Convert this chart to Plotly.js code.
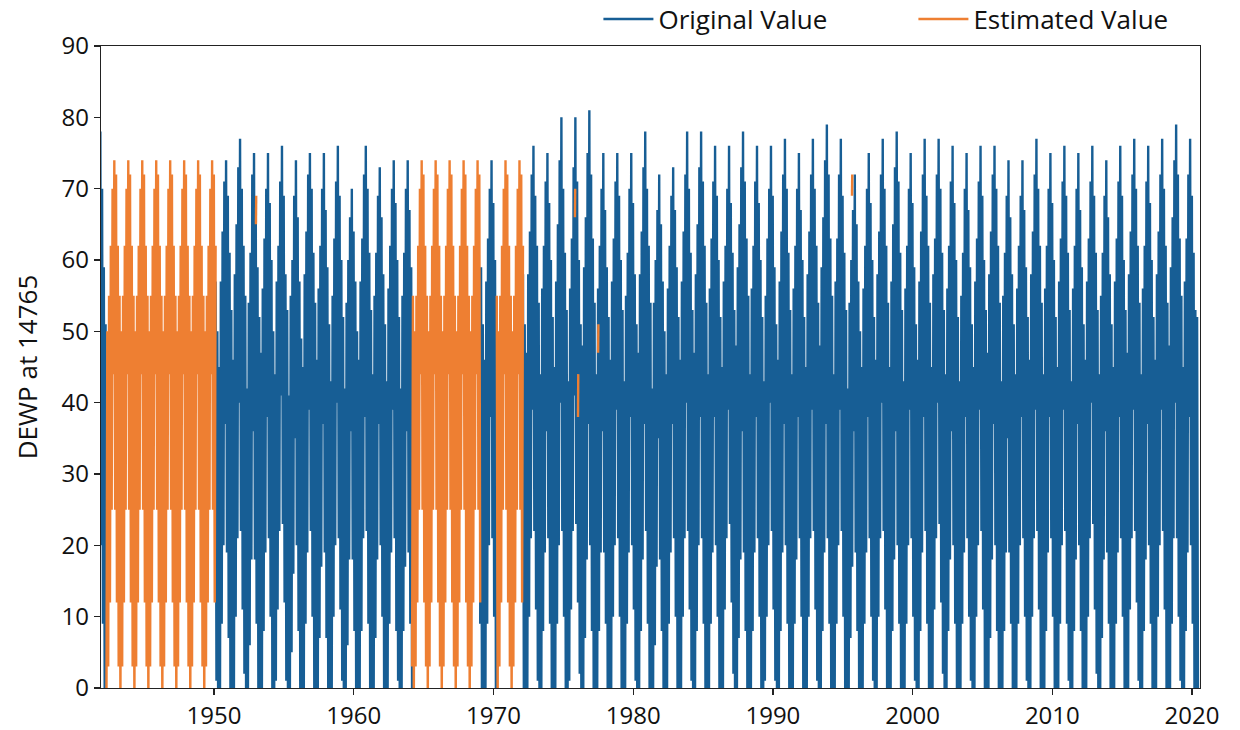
<!DOCTYPE html>
<html>
<head>
<meta charset="utf-8">
<script src="https://cdn.plot.ly/plotly-3.0.1.min.js"></script>
<style>html,body{margin:0;padding:0;background:#fff;}#chart{width:1240px;height:730px;}</style>
</head>
<body>
<div id="chart"></div>
<script>
// ---- Data ----
// Each "cycle" is one year of values (16 samples, lo/hi alternating) starting at year + 0.30
const cycleOffset = 0.30;
const samplesPerCycle = 16;

// Original Value (blue) cycles, grouped by decade
const years1940s = [1941, 1949];
const orig1940s = [
  [-6,44,-1,56,8,62,19,71,38,78,20,70,9,59,-1,51],
  [-5,43,0,54,6,62,17,69,36,74,22,67,8,57,1,50]
];
const years1950s = [1950,1951,1952,1953,1954,1955,1956,1957,1958,1959];
const orig1950s = [
  [-7,45,-3,57,9,64,20,71,37,74,19,69,7,61,-1,53],
  [-9,46,0,58,10,65,21,73,40,77,22,70,11,62,2,55],
  [-6,42,-2,54,6,61,18,72,36,75,18,67,9,59,-2,52],
  [-8,47,-1,56,8,63,19,70,38,75,21,68,10,60,0,50],
  [-5,44,1,57,11,62,22,71,41,76,23,69,12,58,1,53],
  [-10,41,-4,55,5,60,16,69,35,74,20,66,8,57,-3,49],
  [-7,45,-1,58,9,64,19,72,39,75,22,70,10,61,0,54],
  [-8,46,-3,56,7,62,17,70,37,75,19,67,7,59,-1,51],
  [-6,43,0,55,10,63,20,71,40,76,21,69,11,60,1,52],
  [-9,42,-2,54,6,60,18,66,36,70,18,64,8,57,-2,50]
];
const years1960s = [1960,1961,1962,1963,1968,1969];
const orig1960s = [
  [-7,46,-1,57,8,63,21,72,38,76,22,70,9,61,0,53],
  [-8,44,-3,55,7,61,18,69,37,73,20,66,10,58,-1,51],
  [-6,43,0,56,9,62,19,70,39,74,21,68,8,60,1,52],
  [-9,42,-2,55,8,61,17,70,36,74,19,67,9,59,-1,50],
  [-7,44,-1,56,8,62,18,69,37,73,20,66,9,59,0,51],
  [-8,46,-2,57,9,63,20,70,38,74,21,68,10,60,0,52]
];
const years1970s = [1971,1972,1973,1974,1975,1976,1977,1978,1979];
const orig1970s = [
  [-6,43,-1,55,7,61,18,69,37,74,20,67,10,58,-1,51],
  [-8,47,0,58,10,64,21,72,39,76,22,69,11,62,1,54],
  [-7,44,-2,56,8,62,19,71,36,75,21,68,9,60,-1,52],
  [-9,45,-1,57,9,65,20,74,40,80,22,70,10,61,0,53],
  [-6,43,1,56,11,63,22,73,41,80,23,71,12,60,2,51],
  [-10,48,-3,59,7,66,18,75,37,81,20,72,8,63,-2,54],
  [-7,44,-1,56,8,62,19,70,36,75,19,67,9,59,0,52],
  [-8,46,-2,57,10,63,20,71,39,75,21,69,10,60,-1,53],
  [-6,43,0,55,9,61,19,70,38,75,20,68,11,58,1,51]
];
const years1980s = [1980,1981,1982,1983,1984,1985,1986,1987,1988,1989];
const orig1980s = [
  [-9,47,-1,58,8,64,18,73,37,78,22,70,9,62,0,54],
  [-7,42,-2,54,6,60,17,67,35,72,18,65,8,57,-1,50],
  [-8,44,0,56,9,62,19,69,37,73,21,67,10,59,0,52],
  [-6,46,-1,57,10,64,21,72,40,78,22,70,11,61,1,53],
  [-9,47,-3,58,8,65,20,73,38,78,21,71,9,62,-1,54],
  [-7,44,-1,56,9,63,19,71,38,76,20,69,10,60,0,52],
  [-8,45,0,57,11,62,21,70,39,76,23,68,12,61,2,53],
  [-10,48,-2,59,7,65,18,73,36,78,19,71,8,63,-2,55],
  [-7,44,-1,56,8,62,19,71,38,76,21,68,10,60,0,52],
  [-6,43,1,55,10,63,20,70,40,76,22,69,11,59,1,51]
];
const years1990s = [1990,1991,1992,1993,1994,1995,1996,1997,1998,1999];
const orig1990s = [
  [-8,46,-2,57,8,64,19,72,37,77,20,70,9,61,-1,53],
  [-9,44,-1,56,9,62,18,70,38,75,21,67,10,60,0,52],
  [-7,45,0,58,10,64,21,72,39,77,22,70,11,62,1,54],
  [-8,48,-3,59,8,66,19,74,37,79,21,72,9,63,-1,55],
  [-6,44,-1,57,9,63,20,72,39,77,22,69,10,61,0,53],
  [-9,42,-2,54,7,60,17,67,36,72,19,65,8,57,-2,50],
  [-7,45,0,56,9,62,19,70,38,75,21,68,10,60,1,52],
  [-8,46,-1,58,10,64,21,72,40,77,22,70,11,62,0,54],
  [-10,45,-3,57,8,65,18,73,36,78,20,71,9,61,-1,53],
  [-6,43,0,56,9,62,20,70,39,75,21,68,10,59,1,51]
];
const years2000s = [2000,2001,2002,2003,2004,2005,2006,2007,2008,2009];
const orig2000s = [
  [-8,46,-2,57,8,64,19,72,38,77,22,69,9,62,0,54],
  [-7,45,-1,58,11,63,21,72,40,77,23,70,12,61,2,53],
  [-9,44,-2,56,8,62,18,71,36,76,20,68,9,60,-1,52],
  [-6,43,0,55,9,61,19,70,38,75,21,67,10,59,1,51],
  [-8,45,-1,57,10,63,20,71,39,76,22,69,11,60,0,53],
  [-7,47,-3,58,7,64,18,72,37,76,20,70,8,62,-2,54],
  [-9,43,-1,55,8,61,19,69,35,74,19,66,9,58,-1,51],
  [-6,44,0,56,9,62,20,69,38,74,21,67,10,59,1,52],
  [-8,46,-2,58,10,64,21,72,39,77,22,70,11,62,0,54],
  [-7,44,-1,56,8,62,19,70,38,75,21,68,10,60,-1,52]
];
const years2010s = [2010,2011,2012,2013,2014,2015,2016,2017,2018,2019,2020];
const orig2010s = [
  [-9,45,0,57,9,63,20,71,39,76,22,69,9,61,1,53],
  [-6,43,-2,56,8,62,18,70,37,75,20,67,8,59,0,51],
  [-8,46,-1,57,10,63,21,71,40,76,23,69,11,61,2,53],
  [-7,44,-3,55,7,61,18,69,36,74,19,66,9,58,-1,51],
  [-9,45,0,57,9,63,19,71,38,76,21,69,10,60,0,53],
  [-6,47,-1,58,11,64,21,72,39,77,22,70,12,62,1,54],
  [-8,44,-2,56,8,62,18,71,37,76,20,68,9,60,-1,52],
  [-7,46,0,58,10,64,20,72,39,77,22,70,11,62,0,54],
  [-9,48,-1,59,9,66,21,74,40,79,21,72,10,63,1,55],
  [-6,45,-2,57,8,63,19,72,38,77,20,69,9,61,-1,53],
  [-8,52,-1]
];
// time spans where the original series is shown
const origSpans = [[1941.85,1942.25],[1950.10,1964.18],[1969.04,1970.22],[1972.10,2020.50]];

// Estimated Value (orange): repeating yearly pattern
const estTemplate = [-3,50,3,55,12,62,25,70,44,74,25,72,12,62,3,55];
const estCycleYears = [1942,1943,1944,1945,1946,1947,1948,1949,1963,1964,1965,1966,1967,1968,1969,1970,1971];
const estSpans = [[1942.28,1950.12],[1964.16,1969.06],[1970.20,1972.12]];
// small isolated estimated patches inside the original record
const estSpeckT = [1953.00,1953.02, 1975.83,1975.85, 1976.05,1976.07, 1977.49,1977.51, 1995.66,1995.68];
const estSpeckV = [65,69, 66,70, 38,44, 47,51, 69,72];

// ---- Build traces ----
function inSpans(t, spans){ return spans.some(s => t >= s[0] && t <= s[1]); }
function pushSeries(xs, ys, years, cycles, spans){
  for (let i = 0; i < years.length; i++){
    const vals = cycles[i];
    for (let k = 0; k < vals.length; k++){
      const t = years[i] + cycleOffset + k / samplesPerCycle;
      if (!inSpans(t, spans)) continue;
      const lastT = xs.length ? xs[xs.length-1] : null;
      if (lastT !== null && t - lastT > 0.1) { xs.push(null); ys.push(null); }
      xs.push(t); ys.push(vals[k]);
    }
  }
}
const bx = [], by = [];
[[years1940s,orig1940s],[years1950s,orig1950s],[years1960s,orig1960s],[years1970s,orig1970s],
 [years1980s,orig1980s],[years1990s,orig1990s],[years2000s,orig2000s],[years2010s,orig2010s]]
 .forEach(g => pushSeries(bx, by, g[0], g[1], origSpans));

const ox = [], oy = [];
pushSeries(ox, oy, estCycleYears, estCycleYears.map(() => estTemplate), estSpans);
for (let i = 0; i < estSpeckT.length; i += 2){
  ox.push(null); oy.push(null);
  ox.push(estSpeckT[i], estSpeckT[i+1]); oy.push(estSpeckV[i], estSpeckV[i+1]);
}

const FONT = '"Open Sans", "Noto Sans", sans-serif';
const traces = [
  {x: bx, y: by, type: 'scatter', mode: 'lines', name: 'Original Value',
   line: {color: '#175e95', width: 2.4}, connectgaps: false, hoverinfo: 'skip'},
  {x: ox, y: oy, type: 'scatter', mode: 'lines', name: 'Estimated Value',
   line: {color: '#ee7f32', width: 2.4}, connectgaps: false, hoverinfo: 'skip'}
];
const axisCommon = {showline: true, mirror: true, linecolor: '#222', linewidth: 1.3,
  ticks: 'outside', ticklen: 6, tickwidth: 1.3, tickcolor: '#222', showgrid: false, zeroline: false,
  automargin: false, tickfont: {family: FONT, size: 24, color: '#111'}};
const layout = {
  width: 1240, height: 730,
  margin: {l: 101, r: 40, t: 46, b: 42, autoexpand: false},
  paper_bgcolor: '#fff', plot_bgcolor: '#fff',
  font: {family: FONT, size: 24, color: '#111'},
  showlegend: true,
  legend: {orientation: 'h', x: 0.4526, xanchor: 'left', y: 1.042, yanchor: 'middle',
    font: {family: FONT, size: 26, color: '#111'}, itemwidth: 50, entrywidth: 250, bgcolor: 'rgba(0,0,0,0)'},
  xaxis: Object.assign({}, axisCommon, {range: [1941.91, 2020.57], tick0: 1950, dtick: 10}),
  yaxis: Object.assign({}, axisCommon, {range: [0, 90], dtick: 10,
    title: {text: 'DEWP at 14765', font: {family: FONT, size: 26, color: '#111'}, standoff: 16}})
};
Plotly.newPlot('chart', traces, layout, {staticPlot: true, displayModeBar: false});
</script>
</body>
</html>
